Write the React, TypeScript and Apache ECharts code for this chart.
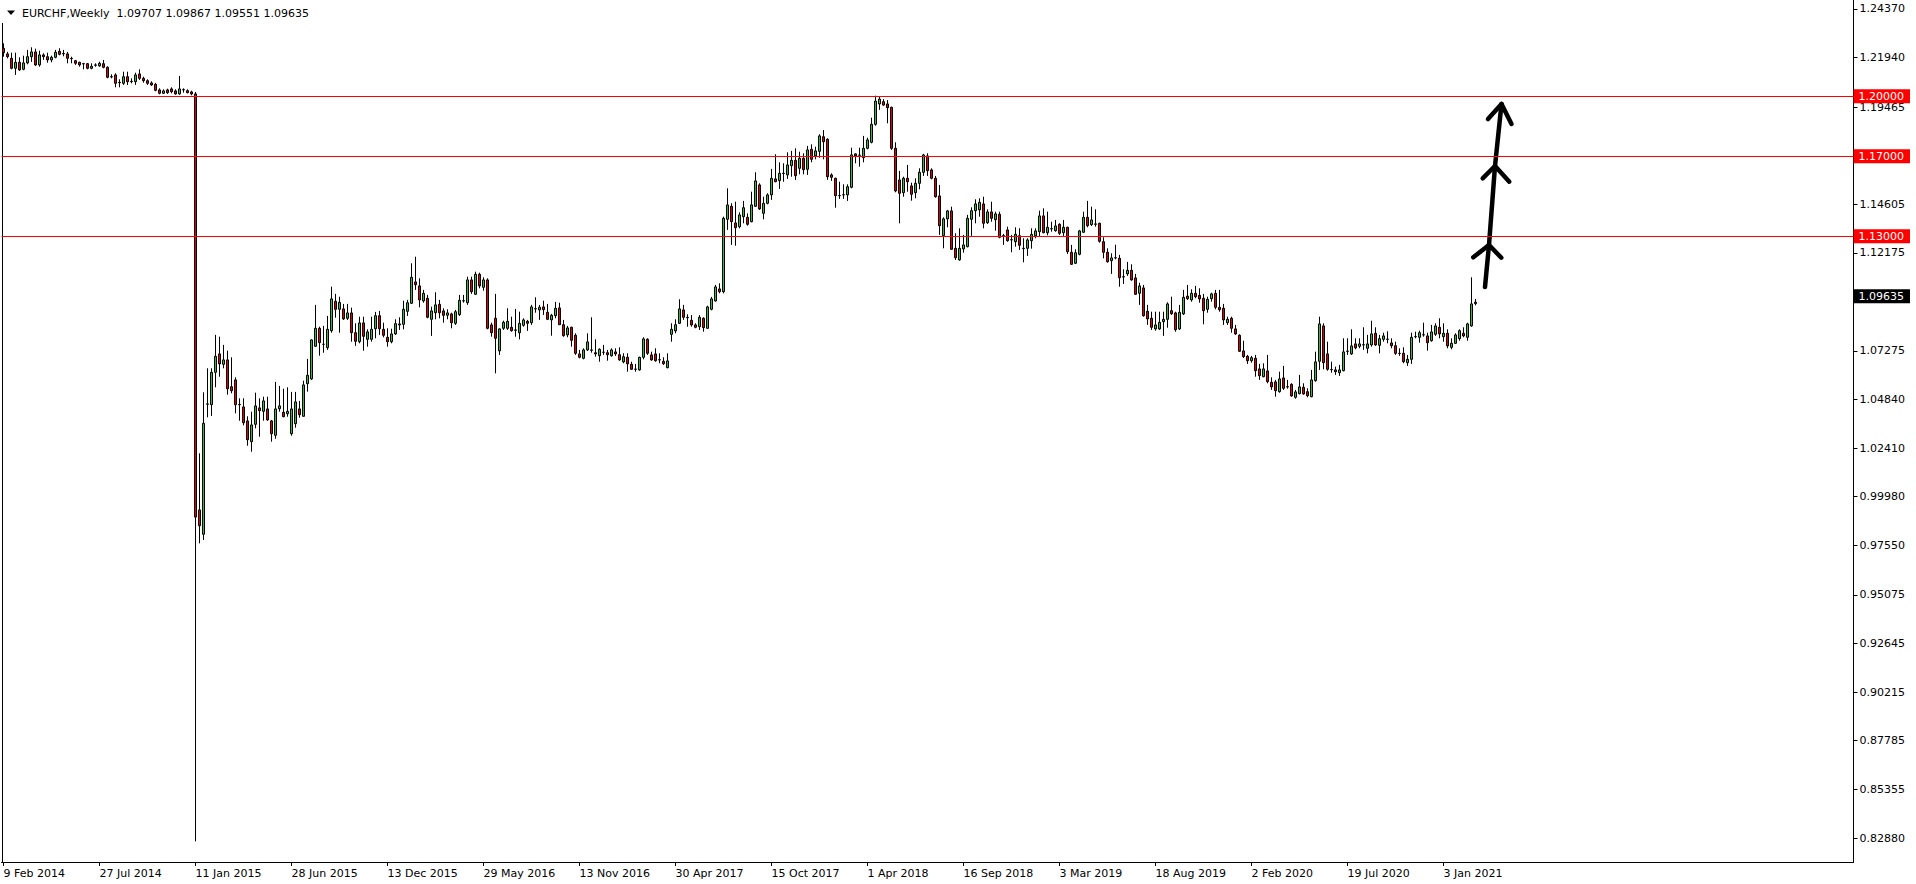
import React, { useEffect, useRef } from "react";
import * as echarts from "echarts";

// ---- header / quote ----
const symbolTitle = "EURCHF,Weekly";
const lastQuote = [1.09707, 1.09867, 1.09551, 1.09635]; // O H L C of current bar

// ---- axis labels ----
const xTickLabels = [
  "9 Feb 2014", "27 Jul 2014", "11 Jan 2015", "28 Jun 2015", "13 Dec 2015", "29 May 2016",
  "13 Nov 2016", "30 Apr 2017", "15 Oct 2017", "1 Apr 2018", "16 Sep 2018", "3 Mar 2019",
  "18 Aug 2019", "2 Feb 2020", "19 Jul 2020", "3 Jan 2021",
];
const weeksPerXLabel = 24;
const yTickValues = [
  1.2437, 1.2194, 1.19465, 1.14605, 1.12175, 1.07275, 1.0484, 1.0241, 0.9998,
  0.9755, 0.95075, 0.92645, 0.90215, 0.87785, 0.85355, 0.8288,
];
const levelLines = [1.2, 1.17, 1.13];

// ---- weekly candles [open, high, low, close] ----
const bars2014 = [
  [1.2240, 1.2265, 1.2198, 1.2218], [1.2212, 1.2222, 1.2190, 1.2198], [1.2190, 1.2218, 1.2135, 1.2140],
  [1.2140, 1.2218, 1.2107, 1.2170], [1.2170, 1.2195, 1.2127, 1.2132], [1.2135, 1.2203, 1.2130, 1.2167],
  [1.2167, 1.2232, 1.2160, 1.2198], [1.2198, 1.2245, 1.2172, 1.2222], [1.2222, 1.2238, 1.2152, 1.2157],
  [1.2157, 1.2228, 1.2148, 1.2207], [1.2207, 1.2215, 1.2182, 1.2198], [1.2198, 1.2218, 1.2168, 1.2182],
  [1.2182, 1.2203, 1.2170, 1.2195], [1.2195, 1.2232, 1.2190, 1.2220], [1.2225, 1.2240, 1.2205, 1.2210],
  [1.2212, 1.2232, 1.2200, 1.2214], [1.2212, 1.2222, 1.2165, 1.2190], [1.2190, 1.2198, 1.2165, 1.2188],
  [1.2178, 1.2182, 1.2157, 1.2165], [1.2170, 1.2173, 1.2148, 1.2157], [1.2163, 1.2167, 1.2135, 1.2162],
  [1.2163, 1.2167, 1.2135, 1.2140], [1.2140, 1.2165, 1.2135, 1.2150], [1.2155, 1.2165, 1.2148, 1.2157],
  [1.2152, 1.2173, 1.2148, 1.2165], [1.2163, 1.2182, 1.2140, 1.2145], [1.2145, 1.2150, 1.2090, 1.2095],
  [1.2097, 1.2110, 1.2090, 1.2098], [1.2107, 1.2115, 1.2045, 1.2065], [1.2070, 1.2085, 1.2045, 1.2068],
  [1.2065, 1.2123, 1.2057, 1.2098], [1.2098, 1.2123, 1.2057, 1.2073], [1.2073, 1.2090, 1.2065, 1.2075],
  [1.2073, 1.2118, 1.2057, 1.2107], [1.2112, 1.2135, 1.2082, 1.2090], [1.2090, 1.2098, 1.2068, 1.2078],
  [1.2078, 1.2085, 1.2057, 1.2065], [1.2067, 1.2075, 1.2052, 1.2057], [1.2060, 1.2067, 1.2025, 1.2030],
  [1.2032, 1.2040, 1.2010, 1.2015], [1.2015, 1.2035, 1.2012, 1.2027], [1.2032, 1.2038, 1.2012, 1.2018],
  [1.2037, 1.2045, 1.2015, 1.2023], [1.2027, 1.2035, 1.2008, 1.2012], [1.2012, 1.2102, 1.2008, 1.2037],
  [1.2032, 1.2040, 1.2018, 1.2033], [1.2028, 1.2035, 1.2015, 1.2018], [1.2022, 1.2028, 1.2005, 1.2012],
];
const bars2015 = [
  [1.2012, 1.2022, 0.8275, 0.9896], [0.9932, 1.0215, 0.9765, 0.9853], [0.9810, 1.0520, 0.9782, 1.0365],
  [1.0460, 1.0640, 1.0395, 1.0462], [1.0458, 1.0640, 1.0402, 1.0620], [1.0620, 1.0807, 1.0545, 1.0700],
  [1.0712, 1.0798, 1.0598, 1.0662], [1.0660, 1.0757, 1.0640, 1.0682], [1.0682, 1.0728, 1.0508, 1.0538],
  [1.0548, 1.0695, 1.0515, 1.0528], [1.0582, 1.0595, 1.0415, 1.0458], [1.0458, 1.0490, 1.0378, 1.0460],
  [1.0447, 1.0490, 1.0355, 1.0368], [1.0377, 1.0400, 1.0253, 1.0283], [1.0273, 1.0423, 1.0223, 1.0357],
  [1.0360, 1.0518, 1.0340, 1.0452], [1.0442, 1.0490, 1.0298, 1.0428], [1.0425, 1.0498, 1.0378, 1.0477],
  [1.0437, 1.0498, 1.0378, 1.0382], [1.0377, 1.0382, 1.0273, 1.0313], [1.0305, 1.0572, 1.0288, 1.0437],
  [1.0438, 1.0552, 1.0423, 1.0452], [1.0420, 1.0538, 1.0395, 1.0398], [1.0413, 1.0545, 1.0398, 1.0425],
  [1.0313, 1.0522, 1.0303, 1.0437], [1.0363, 1.0522, 1.0343, 1.0472], [1.0437, 1.0477, 1.0393, 1.0408],
  [1.0400, 1.0578, 1.0398, 1.0557], [1.0563, 1.0687, 1.0523, 1.0605], [1.0587, 1.0785, 1.0582, 1.0782],
  [1.0750, 1.0957, 1.0748, 1.0840], [1.0840, 1.0848, 1.0703, 1.0768], [1.0760, 1.0852, 1.0718, 1.0760],
  [1.0743, 1.0902, 1.0732, 1.0835], [1.0828, 1.1048, 1.0818, 1.0987], [1.0975, 1.1012, 1.0893, 1.0935],
  [1.0935, 1.0998, 1.0818, 1.0970], [1.0937, 1.0962, 1.0882, 1.0887], [1.0890, 1.0962, 1.0882, 1.0917],
  [1.0917, 1.0943, 1.0773, 1.0818], [1.0818, 1.0865, 1.0752, 1.0775], [1.0773, 1.0898, 1.0765, 1.0867],
  [1.0867, 1.0898, 1.0728, 1.0800], [1.0785, 1.0835, 1.0748, 1.0822], [1.0785, 1.0898, 1.0773, 1.0835],
  [1.0838, 1.0922, 1.0790, 1.0903], [1.0903, 1.0927, 1.0807, 1.0838], [1.0835, 1.0868, 1.0795, 1.0805],
  [1.0795, 1.0840, 1.0748, 1.0773], [1.0773, 1.0838, 1.0765, 1.0812], [1.0812, 1.0885, 1.0807, 1.0863],
  [1.0857, 1.0895, 1.0832, 1.0862],
];
const bars2016 = [
  [1.0860, 1.0978, 1.0835, 1.0935], [1.0925, 1.0982, 1.0902, 1.0968], [1.0965, 1.1165, 1.0962, 1.1095],
  [1.1072, 1.1198, 1.1032, 1.1058], [1.1052, 1.1090, 1.0945, 1.0982], [1.0977, 1.1032, 1.0968, 1.1015],
  [1.0990, 1.1007, 1.0890, 1.0895], [1.0885, 1.0948, 1.0802, 1.0927], [1.0918, 1.1020, 1.0885, 1.0957],
  [1.0960, 1.0982, 1.0890, 1.0918], [1.0927, 1.0940, 1.0868, 1.0905], [1.0905, 1.0935, 1.0885, 1.0917],
  [1.0912, 1.0918, 1.0840, 1.0868], [1.0865, 1.0932, 1.0857, 1.0923], [1.0908, 1.1007, 1.0902, 1.0980],
  [1.0977, 1.1007, 1.0968, 1.0978], [1.0968, 1.1098, 1.0957, 1.1082], [1.1082, 1.1098, 1.1012, 1.1023],
  [1.1010, 1.1123, 1.1007, 1.1110], [1.1110, 1.1118, 1.1040, 1.1052], [1.1045, 1.1095, 1.1028, 1.1082],
  [1.1082, 1.1090, 1.0835, 1.0840], [1.0857, 1.0868, 1.0798, 1.0818], [1.0890, 1.1012, 1.0615, 1.0790],
  [1.0727, 1.0840, 1.0707, 1.0837], [1.0840, 1.0878, 1.0832, 1.0870], [1.0840, 1.0940, 1.0832, 1.0875],
  [1.0845, 1.0898, 1.0823, 1.0828], [1.0832, 1.0937, 1.0798, 1.0830], [1.0818, 1.0923, 1.0785, 1.0865],
  [1.0855, 1.0890, 1.0848, 1.0882], [1.0875, 1.0882, 1.0827, 1.0865], [1.0868, 1.0957, 1.0857, 1.0947],
  [1.0938, 1.0995, 1.0918, 1.0937], [1.0932, 1.0957, 1.0882, 1.0945], [1.0947, 1.0978, 1.0907, 1.0933],
  [1.0920, 1.0962, 1.0882, 1.0885], [1.0882, 1.0912, 1.0803, 1.0905], [1.0903, 1.0972, 1.0890, 1.0940],
  [1.0942, 1.0968, 1.0857, 1.0858], [1.0858, 1.0882, 1.0798, 1.0803], [1.0807, 1.0852, 1.0795, 1.0842],
  [1.0845, 1.0848, 1.0748, 1.0780], [1.0805, 1.0815, 1.0707, 1.0715], [1.0712, 1.0732, 1.0690, 1.0695],
  [1.0690, 1.0740, 1.0685, 1.0732], [1.0732, 1.0815, 1.0727, 1.0772], [1.0732, 1.0895, 1.0718, 1.0730],
  [1.0718, 1.0785, 1.0698, 1.0712], [1.0703, 1.0740, 1.0673, 1.0735], [1.0720, 1.0757, 1.0707, 1.0720],
  [1.0718, 1.0732, 1.0678, 1.0708],
];
const bars2017 = [
  [1.0703, 1.0740, 1.0698, 1.0732], [1.0722, 1.0740, 1.0702, 1.0712], [1.0708, 1.0745, 1.0678, 1.0682],
  [1.0672, 1.0715, 1.0665, 1.0698], [1.0695, 1.0715, 1.0623, 1.0662], [1.0660, 1.0673, 1.0632, 1.0635],
  [1.0636, 1.0662, 1.0623, 1.0635], [1.0632, 1.0698, 1.0628, 1.0695], [1.0695, 1.0795, 1.0685, 1.0787],
  [1.0785, 1.0790, 1.0707, 1.0715], [1.0707, 1.0723, 1.0678, 1.0682], [1.0712, 1.0740, 1.0673, 1.0678],
  [1.0682, 1.0715, 1.0665, 1.0683], [1.0675, 1.0695, 1.0657, 1.0663], [1.0643, 1.0715, 1.0640, 1.0677],
  [1.0810, 1.0865, 1.0773, 1.0835], [1.0827, 1.0885, 1.0815, 1.0858], [1.0865, 1.0985, 1.0862, 1.0937],
  [1.0932, 1.0957, 1.0882, 1.0895], [1.0895, 1.0910, 1.0848, 1.0893], [1.0880, 1.0906, 1.0848, 1.0857],
  [1.0857, 1.0865, 1.0840, 1.0845], [1.0848, 1.0906, 1.0832, 1.0895], [1.0890, 1.0895, 1.0823, 1.0843],
  [1.0840, 1.0953, 1.0837, 1.0947], [1.0935, 1.0997, 1.0930, 1.0987], [1.0977, 1.1057, 1.0973, 1.1047],
  [1.1037, 1.1065, 1.1015, 1.1023], [1.1023, 1.1398, 1.1015, 1.1390], [1.1385, 1.1540, 1.1332, 1.1457],
  [1.1450, 1.1465, 1.1257, 1.1373], [1.1367, 1.1473, 1.1253, 1.1343], [1.1348, 1.1420, 1.1340, 1.1407],
  [1.1398, 1.1477, 1.1365, 1.1443], [1.1395, 1.1415, 1.1353, 1.1360], [1.1373, 1.1523, 1.1370, 1.1457],
  [1.1450, 1.1620, 1.1447, 1.1577], [1.1557, 1.1565, 1.1432, 1.1437], [1.1415, 1.1498, 1.1385, 1.1465],
  [1.1465, 1.1515, 1.1460, 1.1507], [1.1507, 1.1637, 1.1482, 1.1590], [1.1587, 1.1710, 1.1570, 1.1573],
  [1.1578, 1.1670, 1.1537, 1.1615], [1.1615, 1.1665, 1.1573, 1.1614], [1.1607, 1.1720, 1.1587, 1.1657],
  [1.1653, 1.1727, 1.1598, 1.1680], [1.1680, 1.1740, 1.1582, 1.1603], [1.1640, 1.1723, 1.1610, 1.1690],
  [1.1690, 1.1715, 1.1610, 1.1633], [1.1635, 1.1752, 1.1607, 1.1732], [1.1735, 1.1760, 1.1670, 1.1685],
  [1.1702, 1.1748, 1.1685, 1.1727],
];
const bars2018 = [
  [1.1725, 1.1810, 1.1693, 1.1802], [1.1798, 1.1831, 1.1685, 1.1773], [1.1785, 1.1790, 1.1582, 1.1598],
  [1.1607, 1.1615, 1.1577, 1.1595], [1.1590, 1.1593, 1.1443, 1.1503], [1.1504, 1.1573, 1.1487, 1.1503],
  [1.1507, 1.1560, 1.1487, 1.1508], [1.1507, 1.1560, 1.1477, 1.1548], [1.1545, 1.1743, 1.1540, 1.1707],
  [1.1712, 1.1715, 1.1665, 1.1702], [1.1705, 1.1743, 1.1648, 1.1706], [1.1693, 1.1802, 1.1670, 1.1740],
  [1.1740, 1.1793, 1.1735, 1.1782], [1.1770, 1.1893, 1.1765, 1.1860], [1.1860, 1.2003, 1.1853, 1.1976],
  [1.1962, 1.1998, 1.1932, 1.1986], [1.1973, 1.1986, 1.1953, 1.1956], [1.1962, 1.1981, 1.1865, 1.1943],
  [1.1945, 1.1948, 1.1732, 1.1740], [1.1740, 1.1770, 1.1520, 1.1527], [1.1582, 1.1627, 1.1365, 1.1515],
  [1.1518, 1.1598, 1.1498, 1.1590], [1.1590, 1.1657, 1.1523, 1.1573], [1.1552, 1.1568, 1.1478, 1.1510],
  [1.1518, 1.1590, 1.1490, 1.1565], [1.1565, 1.1640, 1.1535, 1.1620], [1.1620, 1.1712, 1.1602, 1.1707],
  [1.1702, 1.1715, 1.1602, 1.1628], [1.1632, 1.1640, 1.1585, 1.1590], [1.1590, 1.1602, 1.1493, 1.1498],
  [1.1502, 1.1557, 1.1307, 1.1353], [1.1303, 1.1395, 1.1240, 1.1387], [1.1387, 1.1432, 1.1345, 1.1427],
  [1.1427, 1.1448, 1.1232, 1.1235], [1.1240, 1.1315, 1.1182, 1.1193], [1.1182, 1.1340, 1.1178, 1.1240],
  [1.1237, 1.1307, 1.1218, 1.1257], [1.1248, 1.1407, 1.1245, 1.1390], [1.1385, 1.1445, 1.1302, 1.1428],
  [1.1428, 1.1485, 1.1365, 1.1462], [1.1432, 1.1490, 1.1398, 1.1470], [1.1462, 1.1498, 1.1340, 1.1365],
  [1.1368, 1.1435, 1.1362, 1.1422], [1.1422, 1.1473, 1.1373, 1.1390], [1.1383, 1.1423, 1.1328, 1.1412],
  [1.1410, 1.1423, 1.1290, 1.1295], [1.1303, 1.1312, 1.1257, 1.1302], [1.1332, 1.1348, 1.1273, 1.1278],
  [1.1282, 1.1307, 1.1220, 1.1283], [1.1273, 1.1345, 1.1248, 1.1310], [1.1303, 1.1340, 1.1232, 1.1255],
  [1.1238, 1.1290, 1.1170, 1.1240],
];
const bars2019 = [
  [1.1240, 1.1290, 1.1202, 1.1282], [1.1278, 1.1340, 1.1238, 1.1310], [1.1302, 1.1340, 1.1290, 1.1327],
  [1.1323, 1.1428, 1.1298, 1.1402], [1.1402, 1.1440, 1.1315, 1.1318], [1.1318, 1.1423, 1.1305, 1.1345],
  [1.1337, 1.1373, 1.1323, 1.1338], [1.1328, 1.1382, 1.1323, 1.1352], [1.1360, 1.1365, 1.1307, 1.1315],
  [1.1318, 1.1382, 1.1302, 1.1345], [1.1345, 1.1348, 1.1212, 1.1223], [1.1220, 1.1257, 1.1157, 1.1160],
  [1.1165, 1.1235, 1.1162, 1.1218], [1.1210, 1.1332, 1.1205, 1.1327], [1.1320, 1.1423, 1.1318, 1.1395],
  [1.1395, 1.1477, 1.1345, 1.1353], [1.1358, 1.1448, 1.1352, 1.1382], [1.1362, 1.1435, 1.1348, 1.1360],
  [1.1365, 1.1368, 1.1268, 1.1275], [1.1273, 1.1295, 1.1190, 1.1220], [1.1220, 1.1240, 1.1168, 1.1173],
  [1.1178, 1.1215, 1.1112, 1.1192], [1.1193, 1.1258, 1.1185, 1.1192], [1.1190, 1.1207, 1.1048, 1.1093],
  [1.1098, 1.1135, 1.1062, 1.1097], [1.1112, 1.1172, 1.1102, 1.1130], [1.1130, 1.1160, 1.1078, 1.1082],
  [1.1092, 1.1112, 1.1007, 1.1010], [1.1015, 1.1068, 1.0957, 1.1052], [1.1042, 1.1057, 1.0898, 1.0903],
  [1.0925, 1.0957, 1.0857, 1.0887], [1.0890, 1.0923, 1.0832, 1.0845], [1.0837, 1.0923, 1.0828, 1.0857],
  [1.0837, 1.0923, 1.0832, 1.0870], [1.0873, 1.0923, 1.0802, 1.0885], [1.0885, 1.0970, 1.0843, 1.0962],
  [1.0928, 1.0998, 1.0907, 1.0913], [1.0917, 1.0923, 1.0823, 1.0833], [1.0837, 1.0957, 1.0832, 1.0920],
  [1.0912, 1.1032, 1.0907, 1.0995], [1.1001, 1.1057, 1.0982, 1.0988], [1.0982, 1.1035, 1.0973, 1.1015],
  [1.1015, 1.1052, 1.0990, 1.0998], [1.1005, 1.1040, 1.0968, 1.0987], [1.0990, 1.1012, 1.0860, 1.0928],
  [1.0935, 1.0998, 1.0918, 1.0985], [1.0988, 1.1018, 1.0973, 1.1012], [1.1015, 1.1032, 1.0935, 1.0945],
  [1.0945, 1.1032, 1.0923, 1.0933], [1.0940, 1.0962, 1.0857, 1.0882], [1.0868, 1.0898, 1.0857, 1.0885],
  [1.0890, 1.0898, 1.0818, 1.0840],
];
const bars2020 = [
  [1.0837, 1.0857, 1.0807, 1.0812], [1.0805, 1.0810, 1.0722, 1.0725], [1.0727, 1.0778, 1.0692, 1.0698],
  [1.0700, 1.0707, 1.0662, 1.0678], [1.0678, 1.0702, 1.0668, 1.0693], [1.0690, 1.0707, 1.0598, 1.0628],
  [1.0637, 1.0662, 1.0582, 1.0603], [1.0598, 1.0665, 1.0595, 1.0637], [1.0627, 1.0707, 1.0565, 1.0573],
  [1.0570, 1.0595, 1.0532, 1.0547], [1.0572, 1.0582, 1.0498, 1.0528], [1.0523, 1.0623, 1.0518, 1.0587],
  [1.0592, 1.0652, 1.0532, 1.0540], [1.0548, 1.0582, 1.0538, 1.0547], [1.0560, 1.0565, 1.0498, 1.0502],
  [1.0495, 1.0532, 1.0488, 1.0522], [1.0513, 1.0607, 1.0510, 1.0547], [1.0545, 1.0565, 1.0508, 1.0512],
  [1.0523, 1.0540, 1.0495, 1.0503], [1.0498, 1.0632, 1.0495, 1.0582], [1.0578, 1.0723, 1.0573, 1.0672],
  [1.0675, 1.0898, 1.0632, 1.0862], [1.0852, 1.0865, 1.0635, 1.0668], [1.0712, 1.0773, 1.0628, 1.0635],
  [1.0633, 1.0673, 1.0618, 1.0634], [1.0632, 1.0648, 1.0607, 1.0623], [1.0618, 1.0657, 1.0602, 1.0632],
  [1.0628, 1.0790, 1.0625, 1.0722], [1.0725, 1.0790, 1.0707, 1.0726], [1.0712, 1.0835, 1.0707, 1.0752],
  [1.0762, 1.0790, 1.0735, 1.0742], [1.0750, 1.0790, 1.0740, 1.0762], [1.0757, 1.0845, 1.0732, 1.0758],
  [1.0740, 1.0807, 1.0715, 1.0762], [1.0757, 1.0878, 1.0748, 1.0812], [1.0815, 1.0845, 1.0752, 1.0757],
  [1.0755, 1.0807, 1.0715, 1.0788], [1.0785, 1.0818, 1.0773, 1.0802], [1.0785, 1.0825, 1.0765, 1.0786],
  [1.0767, 1.0790, 1.0740, 1.0753], [1.0753, 1.0773, 1.0707, 1.0715], [1.0715, 1.0740, 1.0702, 1.0714],
  [1.0715, 1.0745, 1.0665, 1.0673], [1.0668, 1.0707, 1.0652, 1.0685], [1.0685, 1.0818, 1.0662, 1.0795],
  [1.0798, 1.0823, 1.0790, 1.0799], [1.0795, 1.0828, 1.0768, 1.0818], [1.0807, 1.0868, 1.0798, 1.0808],
  [1.0802, 1.0818, 1.0728, 1.0768], [1.0778, 1.0857, 1.0773, 1.0822], [1.0810, 1.0865, 1.0802, 1.0852],
  [1.0845, 1.0890, 1.0790, 1.0812],
];
const bars2021 = [
  [1.0798, 1.0865, 1.0773, 1.0815], [1.0815, 1.0835, 1.0740, 1.0752], [1.0745, 1.0790, 1.0735, 1.0765],
  [1.0765, 1.0815, 1.0762, 1.0807], [1.0788, 1.0835, 1.0778, 1.0828], [1.0815, 1.0845, 1.0795, 1.0802],
  [1.0795, 1.0868, 1.0778, 1.0862], [1.0852, 1.1095, 1.0848, 1.0962],
  [lastQuote[0], lastQuote[1], lastQuote[2], lastQuote[3]],
];

const weeklyBars = [
  ...bars2014, ...bars2015, ...bars2016, ...bars2017, ...bars2018, ...bars2019, ...bars2020, ...bars2021,
];
const totalSlots = 463; // bars plus empty space to the right (MT4 shift)

const BULL = "#33BB33";
const BEAR = "#E00000";
const LEVEL = "#FF0000";
const FONT = "DejaVu Sans";

function buildOption() {
  const categories = Array.from({ length: totalSlots }, (_, i) => String(i));
  const candleData = weeklyBars.map(([o, h, l, c]) => [o, c, l, h]);
  const showX = (i: number) => i % weeksPerXLabel === 0 && i / weeksPerXLabel < xTickLabels.length;

  const tag = (value: number, bg: string) => ({
    yAxis: value,
    lineStyle: { color: bg === "#000000" ? "rgba(0,0,0,0)" : LEVEL, width: 1, type: "solid" },
    label: {
      show: true,
      position: "end",
      distance: 0,
      formatter: value.toFixed(5),
      backgroundColor: bg,
      color: "#FFFFFF",
      fontFamily: FONT,
      fontSize: 11,
      lineHeight: 13,
      padding: [1, 6, 0, 5],
    },
  });

  const header = symbolTitle + "  " + lastQuote.map((v) => v.toFixed(5)).join(" ");

  return {
    animation: false,
    backgroundColor: "#FFFFFF",
    textStyle: { fontFamily: FONT },
    grid: { left: 1.5, top: 0, width: 1852, height: 862, containLabel: false },
    xAxis: {
      type: "category",
      data: categories,
      boundaryGap: true,
      axisLine: { show: true, lineStyle: { color: "#000000", width: 1 } },
      axisTick: {
        show: true,
        alignWithLabel: true,
        interval: (i: number) => showX(i),
        length: 4,
        lineStyle: { color: "#000000" },
      },
      axisLabel: {
        interval: (i: number) => showX(i),
        formatter: (v: string) => xTickLabels[Number(v) / weeksPerXLabel] ?? "",
        align: "left",
        margin: 6,
        fontSize: 11,
        fontFamily: FONT,
        color: "#000000",
      },
      splitLine: { show: false },
    },
    yAxis: {
      type: "value",
      position: "right",
      min: 0.81715,
      max: 1.24815,
      axisLine: { show: true, lineStyle: { color: "#000000", width: 1 } },
      axisTick: { show: true, length: 4, customValues: yTickValues, lineStyle: { color: "#000000" } },
      axisLabel: {
        customValues: yTickValues,
        formatter: (v: number) => v.toFixed(5),
        margin: 6,
        fontSize: 11,
        fontFamily: FONT,
        color: "#000000",
      },
      splitLine: { show: false },
    },
    series: [
      {
        type: "candlestick",
        data: candleData,
        barWidth: 2,
        itemStyle: {
          color: BULL,
          color0: BEAR,
          borderColor: "#000000",
          borderColor0: "#000000",
          borderColorDoji: "#000000",
          borderWidth: 1,
        },
        markLine: {
          silent: true,
          animation: false,
          symbol: ["none", "none"],
          data: [...levelLines.map((v) => tag(v, LEVEL)), tag(lastQuote[3], "#000000")],
        },
      },
    ],
    graphic: [
      { type: "line", shape: { x1: 2.5, y1: 23, x2: 2.5, y2: 862 }, style: { stroke: "#000000", lineWidth: 1 } },
      { type: "polygon", shape: { points: [[7, 10.5], [15, 10.5], [11, 15]] }, style: { fill: "#000000" } },
      {
        type: "text",
        x: 22,
        y: 13.5,
        style: { text: header, font: `11px "${FONT}"`, fill: "#000000", align: "left", verticalAlign: "middle" },
      },
      {
        type: "group",
        children: [
          { type: "polyline", shape: { points: [[1485, 287], [1489, 245], [1495, 166], [1501.5, 104]] } },
          { type: "polyline", shape: { points: [[1488, 119], [1501.5, 104], [1511.5, 124]] } },
          { type: "polyline", shape: { points: [[1482.7, 178.3], [1495, 166], [1509.3, 181.7]] } },
          { type: "polyline", shape: { points: [[1473.3, 257.3], [1489, 245], [1501.3, 257.7]] } },
        ].map((el) => ({
          ...el,
          style: { stroke: "#000000", lineWidth: 4.5, fill: "none", lineCap: "round", lineJoin: "round" },
        })),
      },
    ],
  };
}

export default function App() {
  const ref = useRef<HTMLDivElement>(null);
  useEffect(() => {
    document.body.style.margin = "0";
    if (!ref.current) return;
    const chart = echarts.init(ref.current, null, { renderer: "svg" });
    chart.setOption(buildOption() as any);
    return () => chart.dispose();
  }, []);
  return <div ref={ref} style={{ width: 1916, height: 884, background: "#FFFFFF" }} />;
}
